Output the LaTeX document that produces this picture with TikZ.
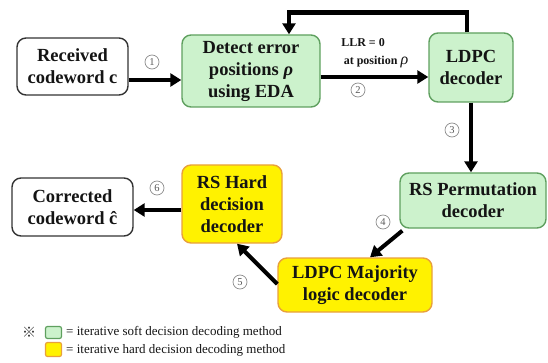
\documentclass[tikz,border=0pt]{standalone}
\usepackage{fontspec}
\setmainfont{Liberation Serif}[BoldFont={Liberation Serif Bold},ItalicFont={Liberation Serif Italic},BoldItalicFont={Liberation Serif Bold Italic}]
\newfontfamily\cjk{Noto Sans CJK SC}
\usetikzlibrary{arrows.meta,calc}
\definecolor{gfill}{RGB}{204,242,204}
\definecolor{gdraw}{RGB}{95,160,95}
\definecolor{yfill}{RGB}{255,242,0}
\definecolor{ydraw}{RGB}{232,160,60}
\definecolor{txt}{RGB}{20,20,20}
\begin{document}
\begin{tikzpicture}[x=1pt,y=-1pt,
  box/.style={rectangle,rounded corners=9pt,line width=1.4pt,align=center,
    text=txt,font=\bfseries\fontsize{18.5}{22}\selectfont,inner sep=0pt},
  wbox/.style={box,draw=black!80,fill=white},
  gbox/.style={box,draw=gdraw,fill=gfill},
  ybox/.style={box,draw=ydraw,fill=yfill},
  arr/.style={line width=4pt,-{Triangle[length=11pt,width=13pt]}},
  num/.style={circle,draw=black!45,line width=0.7pt,minimum size=14pt,inner sep=0pt,
    text=black!65,font=\fontsize{10.5}{10.5}\selectfont},
  lbl/.style={font=\bfseries\fontsize{12}{14}\selectfont,text=txt,inner sep=0pt},
  leg/.style={font=\fontsize{13}{15}\selectfont,text=txt,inner sep=0pt,anchor=west}]
\useasboundingbox (0,0) rectangle (548,363);
% nodes
\node[wbox,minimum width=111pt,minimum height=57pt] (rec) at (72.5,66.5) {Received\\codeword c};
\node[gbox,minimum width=138pt,minimum height=72pt] (det) at (251,71) {Detect error\\positions \textit{ρ}\\using EDA};
\node[gbox,minimum width=84pt,minimum height=69pt] (ldpc) at (471,67.5) {LDPC\\decoder};
\node[gbox,minimum width=146pt,minimum height=55pt] (rsp) at (473,200.5) {RS Permutation\\decoder};
\node[ybox,minimum width=154pt,minimum height=54pt] (maj) at (355,285) {LDPC Majority\\logic decoder};
\node[ybox,minimum width=100pt,minimum height=78pt] (rsh) at (232,204) {RS Hard\\decision\\decoder};
\node[wbox,minimum width=121pt,minimum height=58pt] (cor) at (72.5,207) {Corrected\\codeword ĉ};
\coordinate (top) at (0,12.5);
% connectors
\draw[arr] ([yshift=-13.5pt]rec.east) -- ([yshift=-13.5pt]rec.east -| det.west);
\draw[arr] ([yshift=-6pt]det.east) -- ([yshift=-6pt]det.east -| ldpc.west);
\draw[line width=4.5pt,-{Triangle[length=11pt,width=13pt]}] ([xshift=-4pt]ldpc.north) -- ([xshift=-4pt]ldpc.north |- top) -- ([xshift=38pt]det.north |- top) -- ([xshift=38pt]det.north);
\draw[arr] (ldpc.south) -- (ldpc.south |- rsp.north);
\draw[arr] ([xshift=3pt,yshift=-2pt]rsp.south west) -- ([xshift=15pt]maj.north);
\draw[arr] ([yshift=1pt]maj.west) -- ([xshift=5pt]rsh.south);
\draw[arr] ([yshift=-6pt]rsh.west) -- ([yshift=-6pt]rsh.west -| cor.east);
% numbers
\node[num] (n1) at (152,62) {1};
\node[num] (n2) at (358,90) {2};
\node[num] (n3) at (452,130) {3};
\node[num] (n4) at (383,222) {4};
\node[num] (n5) at (240,282) {5};
\node[num] (n6) at (157,188) {6};
% labels
\node[lbl] (l1) at (363,43) {LLR = 0};
\node[lbl] (l2) at (376,62) {at position \textit{\fontsize{16}{16}\selectfont\mdseries ρ}};
% legend
\node[inner sep=0pt,text=black!80] (ast) at (29,332) {\cjk\fontsize{14}{14}\selectfont ※};
\node[draw=gdraw,fill=gfill,line width=1.2pt,rounded corners=2pt,minimum width=16pt,minimum height=12pt,inner sep=0pt] (lg) at (53.5,332.5) {};
\node[draw=ydraw,fill=yfill,line width=1.2pt,rounded corners=2pt,minimum width=16pt,minimum height=14pt,inner sep=0pt] (ly) at (53.5,349.5) {};
\node[leg] (t1) at (66,332) {= iterative soft decision decoding method};
\node[leg] (t2) at (66,350) {= iterative hard decision decoding method};
\end{tikzpicture}
\end{document}
